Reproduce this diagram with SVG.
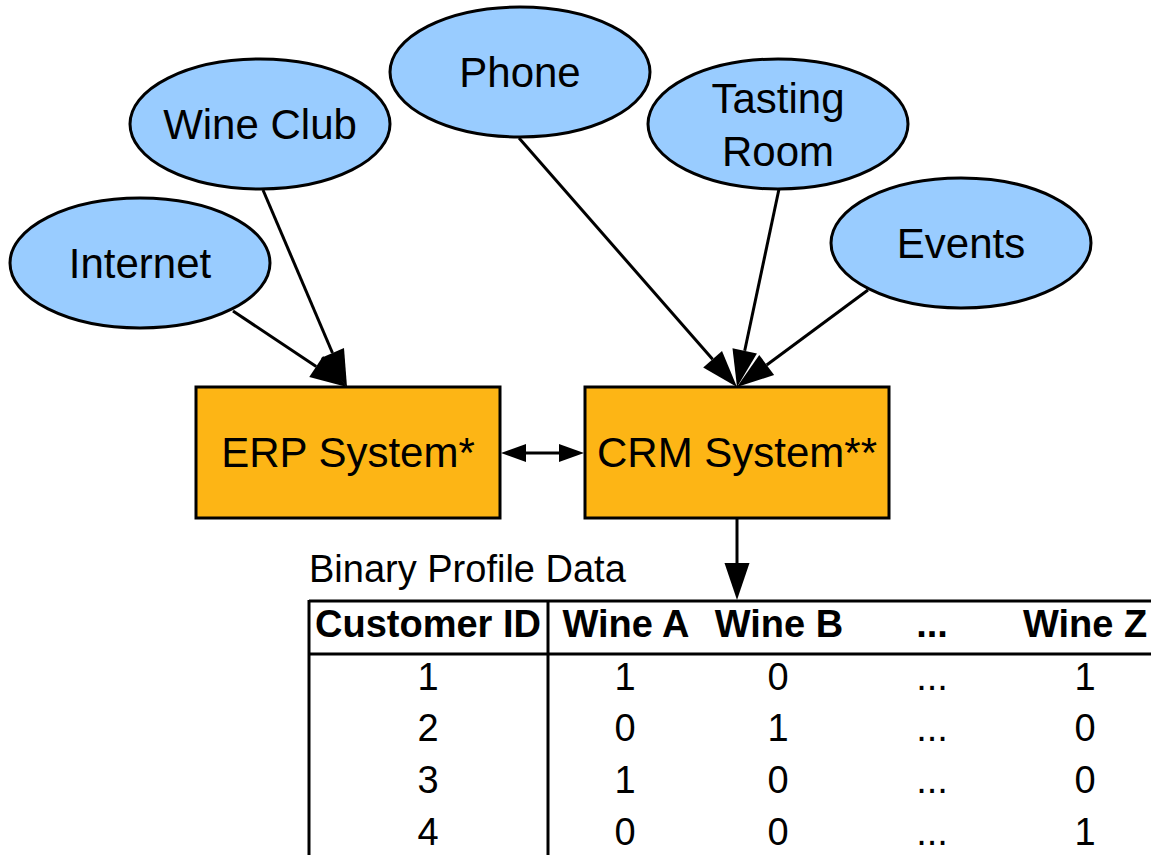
<svg xmlns="http://www.w3.org/2000/svg" width="1151" height="855" viewBox="0 0 1151 855">
<style>
.ell{fill:#99ccff;stroke:#000;stroke-width:3}
.box{fill:#fdb515;stroke:#000;stroke-width:3}
.lbl{font-family:"Liberation Sans",Arial,sans-serif;font-size:42px;fill:#000;text-anchor:middle}
.edge{stroke:#000;stroke-width:3;fill:none}
.tl{stroke:#000;stroke-width:3;fill:none}
.tt{font-family:"Liberation Sans",Arial,sans-serif;font-size:38px;fill:#000}
.th{font-family:"Liberation Sans",Arial,sans-serif;font-size:38px;font-weight:bold;fill:#000;text-anchor:middle}
.td{font-family:"Liberation Sans",Arial,sans-serif;font-size:38px;fill:#000;text-anchor:middle}
</style>
<defs>
<marker id="big" markerUnits="userSpaceOnUse" markerWidth="37" markerHeight="25" refX="0" refY="12.5" orient="auto" overflow="visible">
<path d="M0,0 L37,12.5 L0,25 z" fill="#000"/>
</marker>
<marker id="small" markerUnits="userSpaceOnUse" markerWidth="25" markerHeight="18" refX="0" refY="9" orient="auto-start-reverse" overflow="visible">
<path d="M0,0 L25,9 L0,18 z" fill="#000"/>
</marker>
</defs>
<rect width="1151" height="855" fill="#fff"/>
<g id="connectors">
<line class="edge" x1="233" y1="311" x2="316.2" y2="366.5" marker-end="url(#big)"/>
<line class="edge" x1="263" y1="190" x2="332.5" y2="353" marker-end="url(#big)"/>
<line class="edge" x1="519" y1="138" x2="712.6" y2="359.2" marker-end="url(#big)"/>
<line class="edge" x1="779" y1="189" x2="744.7" y2="350.8" marker-end="url(#big)"/>
<line class="edge" x1="868" y1="290" x2="766.7" y2="365" marker-end="url(#big)"/>
<line class="edge" x1="737" y1="518" x2="737" y2="563" marker-end="url(#big)"/>
<line class="edge" x1="526" y1="453" x2="559" y2="453" marker-start="url(#small)" marker-end="url(#small)"/>
</g>
<g id="internet">
<ellipse class="ell" cx="140" cy="263" rx="130" ry="65"/>
<text class="lbl" x="140" y="278">Internet</text>
</g>
<g id="wineclub">
<ellipse class="ell" cx="260" cy="124" rx="130" ry="65"/>
<text class="lbl" x="260" y="139">Wine Club</text>
</g>
<g id="phone">
<ellipse class="ell" cx="520" cy="72" rx="130" ry="65"/>
<text class="lbl" x="520" y="87">Phone</text>
</g>
<g id="tastingroom">
<ellipse class="ell" cx="778" cy="124" rx="130" ry="65"/>
<text class="lbl" x="778" y="113">Tasting</text>
<text class="lbl" x="778" y="166">Room</text>
</g>
<g id="events">
<ellipse class="ell" cx="961" cy="243" rx="130" ry="65"/>
<text class="lbl" x="961" y="258">Events</text>
</g>
<g id="erp">
<rect class="box" x="196" y="387" width="304" height="131"/>
<text class="lbl" x="348" y="467">ERP System*</text>
</g>
<g id="crm">
<rect class="box" x="585" y="387" width="304" height="131"/>
<text class="lbl" x="737" y="467">CRM System**</text>
</g>
<g id="table">
<text class="tt" x="309" y="582">Binary Profile Data</text>
<line class="tl" x1="309" y1="601" x2="1151" y2="601"/>
<line class="tl" x1="309" y1="654" x2="1151" y2="654"/>
<line class="tl" x1="309" y1="600" x2="309" y2="855"/>
<line class="tl" x1="548" y1="600" x2="548" y2="855"/>
<text class="th" x="428" y="637">Customer ID</text>
<text class="th" x="626" y="637">Wine A</text>
<text class="th" x="779" y="637">Wine B</text>
<text class="th" x="932" y="637">...</text>
<text class="th" x="1085" y="637">Wine Z</text>
<text class="td" x="428" y="690">1</text><text class="td" x="625" y="690">1</text><text class="td" x="778" y="690">0</text><text class="td" x="932" y="690">...</text><text class="td" x="1085" y="690">1</text>
<text class="td" x="428" y="741">2</text><text class="td" x="625" y="741">0</text><text class="td" x="778" y="741">1</text><text class="td" x="932" y="741">...</text><text class="td" x="1085" y="741">0</text>
<text class="td" x="428" y="793">3</text><text class="td" x="625" y="793">1</text><text class="td" x="778" y="793">0</text><text class="td" x="932" y="793">...</text><text class="td" x="1085" y="793">0</text>
<text class="td" x="428" y="845">4</text><text class="td" x="625" y="845">0</text><text class="td" x="778" y="845">0</text><text class="td" x="932" y="845">...</text><text class="td" x="1085" y="845">1</text>
</g>
</svg>
